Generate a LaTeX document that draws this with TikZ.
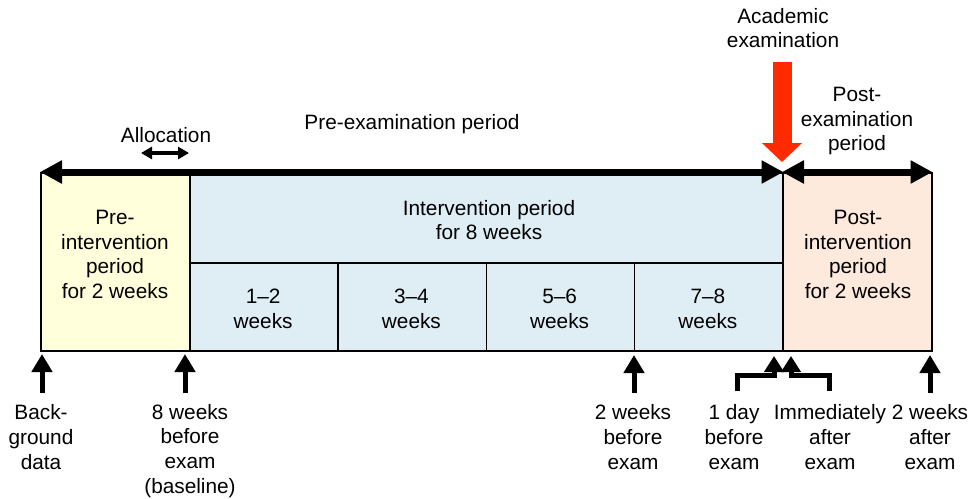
\documentclass[tikz,border=0pt]{standalone}
\usepackage{fontspec}
\setmainfont{Liberation Sans}
\usetikzlibrary{arrows.meta}
\definecolor{preyel}{HTML}{FFFFDB}
\definecolor{intblue}{HTML}{DFEEF4}
\definecolor{postpch}{HTML}{FDEADC}
\definecolor{examred}{HTML}{FF2A00}
\begin{document}
\begin{tikzpicture}[x=1pt,y=-1pt,
  txt/.style={align=center, font=\fontsize{20.8}{24.8}\selectfont, inner sep=0pt},
  periodbox/.style={draw=black, line width=1.5pt, inner sep=0pt, anchor=north west},
  bigarrow/.style={line width=7pt, {Triangle[length=22pt,width=22pt]}-{Triangle[length=22pt,width=22pt]}},
  allocarrow/.style={line width=3.5pt, {Triangle[length=11pt,width=12pt]}-{Triangle[length=11pt,width=12pt]}},
  uparrow/.style={line width=5pt, -{Triangle[length=18pt,width=20pt]}},
  elbow/.style={line width=5pt, line join=miter, -{Triangle[length=16pt,width=19pt]}},
  redarrow/.style={line width=19pt, draw=examred, -{Triangle[length=19pt,width=39pt]}}
]
\useasboundingbox (0,0) rectangle (973,498);

% period boxes
\node[periodbox, fill=preyel, minimum width=149pt, minimum height=178pt] (pre) at (40,172) {};
\node[periodbox, fill=intblue, minimum width=593pt, minimum height=178pt] (inter) at (189,172) {};
\node[periodbox, fill=postpch, minimum width=149pt, minimum height=178pt] (post) at (782,172) {};
\foreach \i/\x in {1/189, 2/337.25, 3/485.5, 4/633.75}
  \node[periodbox, minimum width=148.25pt, minimum height=88pt] (w\i) at (\x,262) {};

% texts in boxes
\node[txt] (pretxt) at (115,254.5) {Pre-\\intervention\\period\\for 2 weeks};
\node[txt] (inttxt) at (489,220) {Intervention period\\for 8 weeks};
\node[txt] (w1t) at (263.1,309) {1–2\\weeks};
\node[txt] (w2t) at (411.4,309) {3–4\\weeks};
\node[txt] (w3t) at (559.6,309) {5–6\\weeks};
\node[txt] (w4t) at (707.9,309) {7–8\\weeks};
\node[txt] (posttxt) at (858,254.5) {Post-\\intervention\\period\\for 2 weeks};

% top arrows and labels
\draw[bigarrow] (pre.north west) -- (inter.north east);
\draw[bigarrow] (post.north west) -- (post.north east);
\node[txt] (alloc) at (166,135) {Allocation};
\coordinate (a1) at (141,153);
\coordinate (a2) at (189,153);
\draw[allocarrow] (a1) -- (a2);
\node[txt] (preexam) at (412,124) {Pre-examination period};
\node[txt] (acad) at (783,28) {Academic\\examination};
\coordinate (r1) at (782,62);
\coordinate (r2) at (782,162);
\draw[redarrow] (r1) -- (r2);
\node[txt] (postexam) at (857,121) {Post-\\examination\\period};

% bottom labels
\node[txt] (l1) at (41,437) {Back-\\ground\\data};
\node[txt] (l2) at (190,451) {8 weeks\\before\\exam\\(baseline)};
\node[txt] (l3) at (633,437) {2 weeks\\before\\exam};
\node[txt] (l4) at (734,437) {1 day\\before\\exam};
\node[txt] (l5) at (830,437) {Immediately\\after\\exam};
\node[txt] (l6) at (930,437) {2 weeks\\after\\exam};

% bottom arrows
\coordinate (u1s) at (42,393);  \coordinate (u1e) at (42,354);
\coordinate (u2s) at (185,393); \coordinate (u2e) at (185,354);
\coordinate (u3s) at (634,393); \coordinate (u3e) at (634,355);
\coordinate (u6s) at (930,393); \coordinate (u6e) at (930,355);
\draw[uparrow] (u1s) -- (u1e);
\draw[uparrow] (u2s) -- (u2e);
\draw[uparrow] (u3s) -- (u3e);
\draw[uparrow] (u6s) -- (u6e);
\coordinate (e1s) at (737,391); \coordinate (e1e) at (774,356);
\coordinate (e2s) at (829,391); \coordinate (e2e) at (791,356);
\draw[elbow] (e1s) -- ++(0,-16) -| (e1e);
\draw[elbow] (e2s) -- ++(0,-16) -| (e2e);
\end{tikzpicture}
\end{document}
